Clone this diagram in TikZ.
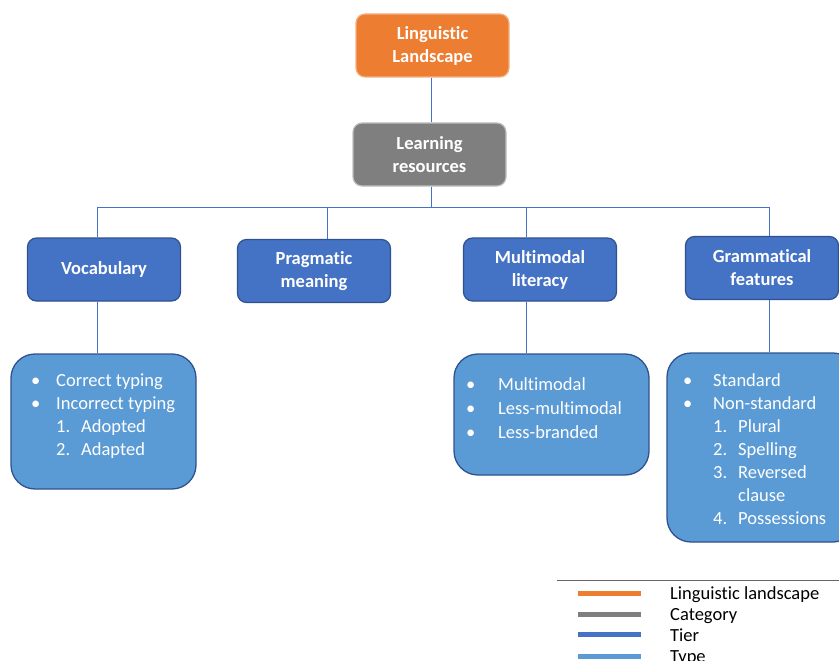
\documentclass[tikz,border=0pt]{standalone}
\usepackage{fontspec}
\setmainfont{Carlito}[Ligatures=NoCommon]
\definecolor{llorange}{HTML}{ED7D31}
\definecolor{llorangeb}{HTML}{F4B183}
\definecolor{catgray}{HTML}{7F7F7F}
\definecolor{catgrayb}{HTML}{BFBFBF}
\definecolor{tierblue}{HTML}{4472C4}
\definecolor{tierblueb}{HTML}{2F528F}
\definecolor{typeblue}{HTML}{5B9BD5}
\definecolor{linkblue}{HTML}{4472C4}
\begin{document}
\begin{tikzpicture}[x=1pt,y=-1pt,
  topbox/.style={rounded corners=9pt, minimum width=153pt, minimum height=63pt, align=center,
    text=white, font=\fontsize{18.5}{23}\selectfont\bfseries, line width=1.2pt},
  tierbox/.style={topbox, fill=tierblue, draw=tierblueb},
  typebox/.style={rounded corners=24pt, fill=typeblue, draw=tierblueb, line width=1.3pt},
  item/.style={anchor=base west, inner sep=0pt, text=white, font=\fontsize{18.5}{23}\selectfont},
  conn/.style={draw=linkblue, line width=0.9pt},
  legline/.style={line width=5pt},
  legtext/.style={anchor=base west, inner sep=0pt, font=\fontsize{18.5}{23}\selectfont}]
\useasboundingbox (0,0) rectangle (839,661);

% top boxes
\node[topbox, fill=llorange, draw=llorangeb] (ll) at (432.5,45.5) {Linguistic\\Landscape};
\node[topbox, fill=catgray, draw=catgrayb] (lr) at (429.5,154.5) {Learning\\resources};

% tier boxes
\node[tierbox] (voc) at (104,269.5) {Vocabulary};
\node[tierbox] (prag) at (314,271) {Pragmatic\\meaning};
\node[tierbox] (mm) at (540,269.5) {Multimodal\\literacy};
\node[tierbox] (gram) at (762,268) {Grammatical\\features};

% type boxes
\node[typebox, minimum width=185pt, minimum height=135pt] (vocl) at (103.5,421.5) {};
\node[typebox, minimum width=195pt, minimum height=121pt] (mml) at (551.5,414.5) {};
\node[typebox, minimum width=190pt, minimum height=189pt] (graml) at (762,447.5) {};

% connectors
\coordinate (hub) at (431,207);
\coordinate (bv) at (97,207);
\coordinate (bp) at (327,207);
\coordinate (bm) at (526,207);
\coordinate (bg) at (769,207);
\draw[conn] (ll.south -| hub) -- (lr.north -| hub);
\draw[conn] (lr.south -| hub) -- (hub);
\draw[conn] (bv) -- (bg);
\draw[conn] (bv) -- (bv |- voc.north);
\draw[conn] (bp) -- (bp |- prag.north);
\draw[conn] (bm) -- (bm |- mm.north);
\draw[conn] (bg) -- (bg |- gram.north);
\draw[conn] (voc.south -| bv) -- (vocl.north -| bv);
\draw[conn] (mm.south -| bm) -- (mml.north -| bm);
\draw[conn] (gram.south -| bg) -- (graml.north -| bg);

% vocabulary list
\node[item] (v1b) at (31,386) {\textbullet};
\node[item] (v1) at (56,386) {Correct typing};
\node[item] (v2b) at (31,409) {\textbullet};
\node[item] (v2) at (56,409) {Incorrect typing};
\node[item] (v3n) at (56,432) {1.};
\node[item] (v3) at (81,432) {Adopted};
\node[item] (v4n) at (56,455) {2.};
\node[item] (v4) at (81,455) {Adapted};

% multimodal list
\node[item] (m1b) at (466,390) {\textbullet};
\node[item] (m1) at (498,390) {Multimodal};
\node[item] (m2b) at (466,414) {\textbullet};
\node[item] (m2) at (498,414) {Less-multimodal};
\node[item] (m3b) at (466,438) {\textbullet};
\node[item] (m3) at (498,438) {Less-branded};

% grammatical list
\node[item] (g1b) at (683,386) {\textbullet};
\node[item] (g1) at (713,386) {Standard};
\node[item] (g2b) at (683,409) {\textbullet};
\node[item] (g2) at (713,409) {Non-standard};
\node[item] (g3n) at (713,432) {1.};
\node[item] (g3) at (738,432) {Plural};
\node[item] (g4n) at (713,455) {2.};
\node[item] (g4) at (738,455) {Spelling};
\node[item] (g5n) at (713,478) {3.};
\node[item] (g5) at (738,478) {Reversed};
\node[item] (g5b) at (738,501) {clause};
\node[item] (g6n) at (713,524) {4.};
\node[item] (g6) at (738,524) {Possessions};

% legend
\draw[draw=black!60, line width=0.8pt] (557,580) -- (839,580);
\draw[legline, draw=llorange] (578,593) -- (641,593);
\draw[legline, draw=catgray] (578,614) -- (641,614);
\draw[legline, draw=tierblue] (578,634) -- (641,634);
\draw[legline, draw=typeblue] (578,656) -- (641,656);
\node[legtext] (l1) at (670,599) {Linguistic landscape};
\node[legtext] (l2) at (670,620) {Category};
\node[legtext] (l3) at (670,641) {Tier};
\node[legtext] (l4) at (670,662) {Type};
\end{tikzpicture}
\end{document}
